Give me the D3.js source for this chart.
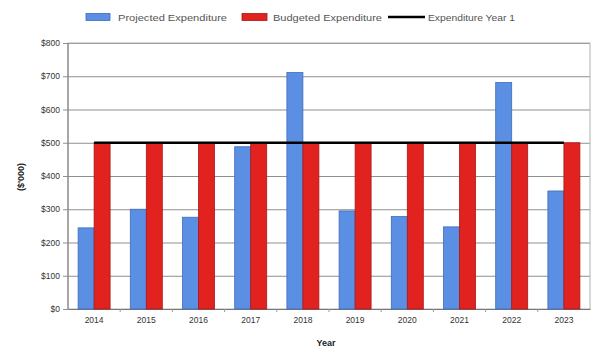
<!DOCTYPE html>
<html>
<head>
<meta charset="utf-8">
<script src="https://cdn.jsdelivr.net/npm/d3@7"></script>
<style>
  body { margin: 0; background: #fff; }
  text { font-family: "Liberation Sans", Arial, sans-serif; }
</style>
</head>
<body>
<div id="chart"></div>
<script>
var years = ['2014','2015','2016','2017','2018','2019','2020','2021','2022','2023']
var projected = [244, 300, 276, 488, 711, 295, 278, 247, 681, 355]
var budgeted = [500, 500, 500, 500, 500, 500, 500, 500, 500, 500]
var yearOne = [500, 500, 500, 500, 500, 500, 500, 500, 500, 500]
var yTicks = [0, 100, 200, 300, 400, 500, 600, 700, 800]
var seriesNames = ['Projected Expenditure', 'Budgeted Expenditure', 'Expenditure Year 1']

var margin = { top: 43, right: 2, bottom: 42, left: 68 }
var width = 592 - margin.left - margin.right
var height = 351 - margin.top - margin.bottom

var svg = d3.select('#chart').append('svg')
    .attr('width', 592)
    .attr('height', 351)

var g = svg.append('g')
    .attr('transform', 'translate(' + margin.left + ',' + margin.top + ')')

var x = d3.scaleBand().domain(years).range([0, width])
var x1 = d3.scaleBand().domain(['p', 'b']).range([x.bandwidth() / 2 - 16, x.bandwidth() / 2 + 16])
var y = d3.scaleLinear().domain([0, 800]).range([height, 0])

// gridlines + y ticks
g.append('g')
    .attr('class', 'grid')
    .call(d3.axisLeft(y).tickValues(yTicks).tickSize(-width - 5).tickFormat(''))
    .attr('transform', 'translate(-5,0)')
    .call(function(s) {
        s.select('.domain').remove()
        s.selectAll('line').attr('stroke', '#8f8f8f').attr('stroke-width', 1)
    })

// frame
g.append('rect')
    .attr('width', width).attr('height', height)
    .attr('fill', 'none').attr('stroke', '#b0b0b0')

g.append('line')
    .attr('x1', 0).attr('x2', 0).attr('y1', 0).attr('y2', height)
    .attr('stroke', '#777')

g.append('g')
    .call(d3.axisLeft(y).tickValues(yTicks).tickSize(0).tickPadding(8).tickFormat(function(d) { return '$' + d }))
    .call(function(s) {
        s.select('.domain').remove()
        s.selectAll('text').attr('fill', '#333').style('font-size', '8.5px')
    })

// x axis
var xAxis = g.append('g')
    .attr('transform', 'translate(0,' + height + ')')
    .call(d3.axisBottom(x).tickSize(0).tickPadding(8))
xAxis.select('.domain').attr('stroke', '#777')
xAxis.selectAll('text').attr('fill', '#333').style('font-size', '8.5px')

g.selectAll('.xtick')
    .data(years.slice(1))
    .enter().append('line')
    .attr('x1', function(d) { return x(d) }).attr('x2', function(d) { return x(d) })
    .attr('y1', height).attr('y2', height + 3)
    .attr('stroke', '#999')

// bars
var groups = g.selectAll('.year')
    .data(years)
    .enter().append('g')
    .attr('transform', function(d) { return 'translate(' + x(d) + ',0)' })

groups.append('rect')
    .attr('x', x1('p'))
    .attr('width', x1.bandwidth())
    .attr('y', function(d, i) { return y(projected[i]) })
    .attr('height', function(d, i) { return height - y(projected[i]) })
    .attr('fill', '#5b8fe3')
    .attr('stroke', '#3f6cb8').attr('stroke-width', 0.8)

groups.append('rect')
    .attr('x', x1('b'))
    .attr('width', x1.bandwidth())
    .attr('y', function(d, i) { return y(budgeted[i]) })
    .attr('height', function(d, i) { return height - y(budgeted[i]) })
    .attr('fill', '#e2221f')
    .attr('stroke', '#a81818').attr('stroke-width', 0.8)

// year 1 line
var line = d3.line()
    .x(function(d, i) { return x(years[i]) + x.bandwidth() / 2 })
    .y(function(d) { return y(d) })

g.append('path')
    .datum(yearOne)
    .attr('fill', 'none')
    .attr('stroke', '#000')
    .attr('stroke-width', 2.5)
    .attr('d', line)

// axis titles
svg.append('text')
    .attr('x', margin.left + width / 2 - 3)
    .attr('y', 346)
    .attr('text-anchor', 'middle')
    .style('font-size', '9px').style('font-weight', 'bold').attr('fill', '#222')
    .text('Year')

svg.append('text')
    .attr('transform', 'translate(24,177) rotate(-90)')
    .attr('text-anchor', 'middle')
    .style('font-size', '9px').style('font-weight', 'bold').attr('fill', '#222')
    .text("($'000)")

// legend
var legend = svg.append('g').attr('transform', 'translate(0,17)')
var lx = [86, 242, 388]
legend.append('rect').attr('x', lx[0]).attr('y', -3.5).attr('width', 24).attr('height', 7)
    .attr('fill', '#5b8fe3').attr('stroke', '#3f6cb8').attr('stroke-width', 0.8)
legend.append('rect').attr('x', lx[1]).attr('y', -3.5).attr('width', 25).attr('height', 7)
    .attr('fill', '#e2221f').attr('stroke', '#a81818').attr('stroke-width', 0.8)
legend.append('line').attr('x1', lx[2]).attr('x2', lx[2] + 37).attr('y1', 0).attr('y2', 0)
    .attr('stroke', '#000').attr('stroke-width', 2.5)
var tx = [118, 273, 428]
var tw = [109, 109, 87]
legend.selectAll('.ltext')
    .data(seriesNames)
    .enter().append('text')
    .attr('x', function(d, i) { return tx[i] })
    .attr('y', 3.5)
    .attr('textLength', function(d, i) { return tw[i] })
    .attr('lengthAdjust', 'spacingAndGlyphs')
    .style('font-size', '9.5px').attr('fill', '#555')
    .text(function(d) { return d })
</script>
</body>
</html>
